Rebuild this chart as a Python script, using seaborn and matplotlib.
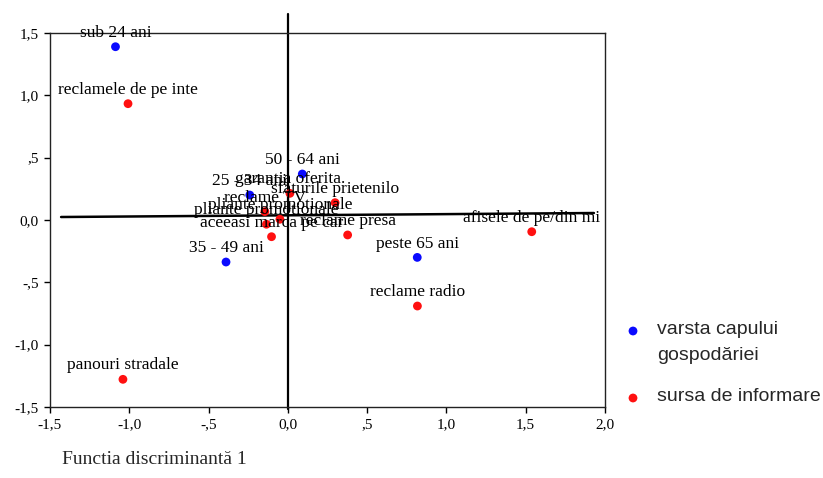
import matplotlib
matplotlib.use("Agg")
import matplotlib.pyplot as plt
import seaborn as sns
import pandas as pd

# ---- data ----
age_labels = ["sub 24 ani", "25 - 34 ani", "35 - 49 ani", "50 - 64 ani", "peste 65 ani"]
age_x = [-1.087, -0.240, -0.390, 0.091, 0.816]
age_y = [1.390, 0.200, -0.337, 0.369, -0.300]

src_labels = ["reclamele de pe inte", "panouri stradale", "reclame radio",
              "afisele de pe/din mi", "garantia oferita.", "sfaturile prietenilo",
              "reclame TV", "pliante promotionale", "pliante promotionale",
              "aceeasi marca pe car", "reclame presa"]
src_x = [-1.008, -1.040, 0.817, 1.538, 0.013, 0.298, -0.145, -0.050, -0.135, -0.103, 0.377]
src_y = [0.933, -1.278, -0.690, -0.094, 0.214, 0.139, 0.067, 0.006, -0.034, -0.134, -0.120]

group_names = ["varsta capului\ngospodăriei", "sursa de informare"]
group_colors = ["#0a0aff", "#ff1010"]

# reference lines (axes of the plot)
hline_x = [-1.43, 1.93]
hline_y = [0.024, 0.056]
vline_x = [0.0, 0.0]
vline_y = [1.65, -1.52]

xticks = [-1.5, -1.0, -0.5, 0.0, 0.5, 1.0, 1.5, 2.0]
xticklabels = ["-1,5", "-1,0", "-,5", "0,0", ",5", "1,0", "1,5", "2,0"]
yticks = [-1.5, -1.0, -0.5, 0.0, 0.5, 1.0, 1.5]
yticklabels = ["-1,5", "-1,0", "-,5", "0,0", ",5", "1,0", "1,5"]
xlabel = "Functia discriminantă 1"

df = pd.DataFrame({
    "x": age_x + src_x,
    "y": age_y + src_y,
    "label": age_labels + src_labels,
    "group": [group_names[0]] * len(age_x) + [group_names[1]] * len(src_x),
})

sns.set_style("ticks")
plt.rcParams["font.family"] = ["Liberation Serif", "DejaVu Serif"]

W, H = 823, 478
fig = plt.figure(figsize=(W / 100, H / 100), dpi=100)
ax = fig.add_axes([50 / W, 1 - 407 / H, 555 / W, 374 / H])

sns.scatterplot(data=df, x="x", y="y", hue="group",
                palette=dict(zip(group_names, group_colors)),
                s=40, edgecolor="none", legend=False, ax=ax, zorder=3)

ax.plot(hline_x, hline_y, color="black", lw=1.8, zorder=2)
ax.plot(vline_x, vline_y, color="black", lw=1.6, zorder=2, clip_on=False)

for _, r in df.iterrows():
    ax.annotate(r["label"], (r["x"], r["y"]), xytext=(0, 10), textcoords="offset points",
                ha="center", va="center", fontsize=12.5, family=["Liberation Serif"],
                color="black", zorder=4, annotation_clip=False)

ax.set_xlim(-1.5, 2.0)
ax.set_ylim(-1.5, 1.5)
ax.set_xticks(xticks)
ax.set_xticklabels(xticklabels)
ax.set_yticks(yticks)
ax.set_yticklabels(yticklabels)
ax.tick_params(direction="out", length=4, width=1, labelsize=11, colors="black", pad=4)
ax.set_xlabel("")
ax.set_ylabel("")
for sp in ax.spines.values():
    sp.set_visible(True)
    sp.set_color("#222222")
    sp.set_linewidth(1.0)

fig.text(62 / W, 1 - 460 / H, xlabel, fontsize=14, ha="left", va="center",
         family=["Liberation Serif"])

# legend
leg_y = [331, 398]
for name, col, yy in zip(group_names, group_colors, leg_y):
    ax.scatter([(633 - 50) / 555 * 3.5 - 1.5], [(407 - yy) / 374 * 3.0 - 1.5],
               s=40, color=col, edgecolor="none", clip_on=False, zorder=5)
    fig.text(657 / W, 1 - (yy - 10) / H, name, fontsize=14, ha="left", va="top",
             family=["Liberation Sans"], linespacing=1.7)

fig.savefig("out.png", dpi=100)
